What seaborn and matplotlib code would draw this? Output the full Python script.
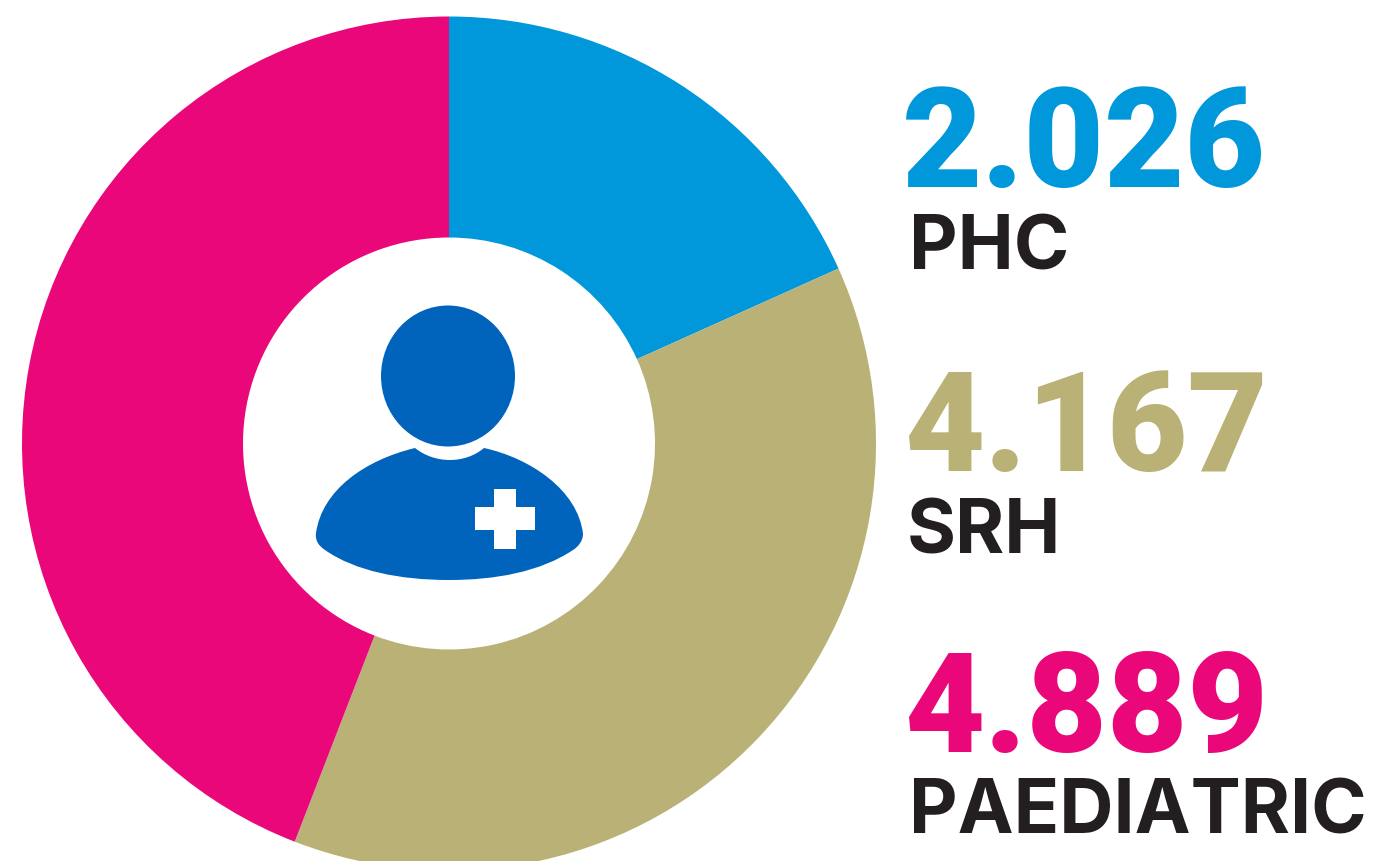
import numpy as np
import seaborn as sns
import matplotlib.pyplot as plt
from matplotlib.patches import Ellipse, Rectangle, PathPatch
from matplotlib.path import Path

categories = ['PHC', 'SRH', 'PAEDIATRIC']
labels_num = ['2.026', '4.167', '4.889']
values = [2026, 4167, 4889]
colors = ['#0098DB', '#B9B176', '#E9077A']

sns.set_theme(style='white')
plt.rcParams['font.family'] = ['Inter', 'DejaVu Sans']

W, H = 1384, 861
fig = plt.figure(figsize=(W / 100, H / 100), dpi=100)
ax = fig.add_axes([0, 0, 1, 1])

# donut, clockwise from top. y axis is flipped so angles run clockwise already
cx, cy, r = 449, 443.5, 427
ax.pie(values, colors=colors, center=(cx, cy), radius=r, startangle=-90, counterclock=True,
       wedgeprops={'width': r - 206, 'linewidth': 0}, frame=True)
ax.set_aspect('auto')
ax.set_xlim(0, W)
ax.set_ylim(H, 0)
ax.axis('off')

# person icon
blue = '#0064BD'
ax.add_patch(Ellipse((448, 376), 134, 141, fc=blue, lw=0))
body = Path([(415, 448), (435, 464), (465, 464), (484, 448),
             (530, 458), (578, 490), (583, 534),
             (583, 541), (578, 547), (573, 550),
             (540, 572), (495, 580), (449, 580),
             (400, 580), (355, 571), (325, 550),
             (319, 546), (315, 541), (316, 533),
             (322, 490), (365, 460), (415, 448)],
            [Path.MOVETO] + [Path.CURVE4] * 21)
ax.add_patch(PathPatch(body, fc=blue, lw=0))
ax.add_patch(Rectangle((494, 489), 22, 60, fc='white', lw=0))
ax.add_patch(Rectangle((475, 507), 60, 23, fc='white', lw=0))

# labels
num_y = [187, 471, 752]
cat_y = [269, 554, 834]
num_x = [902, 905, 905]
cat_x = [909, 907, 909]
for i in range(3):
    ax.text(num_x[i], num_y[i], labels_num[i], color=colors[i], fontsize=100, fontweight='black',
            family=['Roboto', 'DejaVu Sans'], ha='left', va='baseline')
    ax.text(cat_x[i], cat_y[i], categories[i], color='#231F20', fontsize=54, fontweight='bold',
            ha='left', va='baseline')

fig.savefig('out.png', dpi=100)
